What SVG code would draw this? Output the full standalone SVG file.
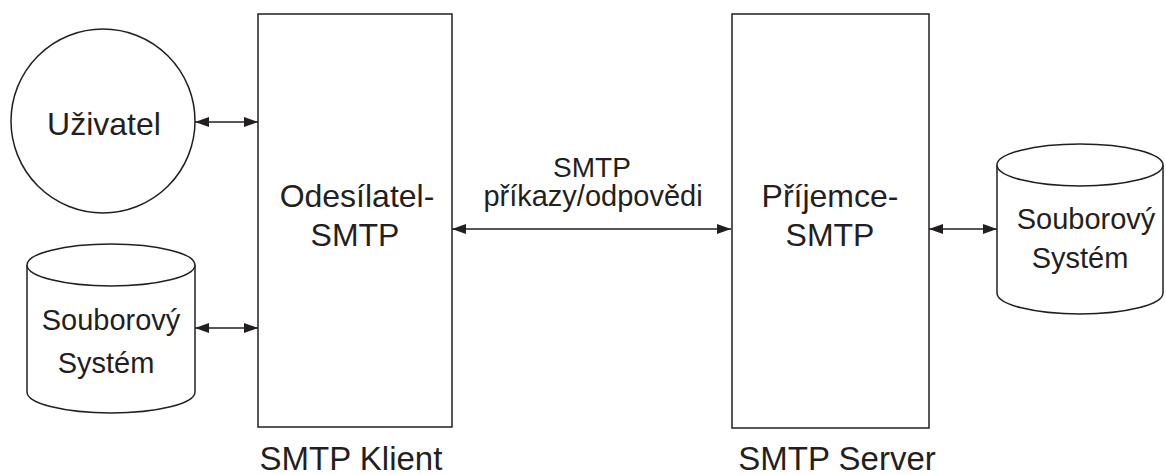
<svg xmlns="http://www.w3.org/2000/svg" width="1166" height="475" viewBox="0 0 1166 475">
  <style>
    .shape { fill: #ffffff; stroke: #231f20; stroke-width: 1.5; }
    .link { fill: none; stroke: #231f20; stroke-width: 1.6; marker-start: url(#head); marker-end: url(#head); }
    .lbl { font-family: "Liberation Sans", Arial, sans-serif; fill: #231f20; text-anchor: middle; }
    .big { font-size: 32px; }
    .mid { font-size: 29px; }
  </style>
  <defs>
    <marker id="head" viewBox="0 0 14 10" refX="14" refY="5" markerWidth="14" markerHeight="10" markerUnits="userSpaceOnUse" orient="auto-start-reverse">
      <path d="M0,0 L14,5 L0,10 Z" fill="#231f20"/>
    </marker>
  </defs>
  <rect width="1166" height="475" fill="#ffffff"/>

  <g id="uzivatel">
    <circle class="shape" cx="103" cy="121" r="92"/>
    <text class="lbl big" x="104" y="135">Uživatel</text>
  </g>

  <g id="souborovy-system-klient">
    <path class="shape" d="M27,265 L27,392 A84,21 0 0 0 195,392 L195,265 A84,21 0 0 0 27,265 Z"/>
    <path class="shape" d="M27,265 A84,21 0 0 0 195,265" fill="none"/>
    <text class="lbl mid" x="111" y="330">Souborový</text>
    <text class="lbl mid" x="106" y="373">Systém</text>
  </g>

  <g id="odesilatel-smtp">
    <rect class="shape" x="258" y="14" width="194" height="413"/>
    <text class="lbl big" x="357" y="207">Odesílatel-</text>
    <text class="lbl big" x="355" y="246">SMTP</text>
  </g>

  <g id="prijemce-smtp">
    <rect class="shape" x="732" y="14" width="197" height="414"/>
    <text class="lbl big" x="830" y="207">Příjemce-</text>
    <text class="lbl big" x="830" y="246">SMTP</text>
  </g>

  <g id="souborovy-system-server">
    <path class="shape" d="M997,165 L997,293 A83,21 0 0 0 1163,293 L1163,165 A83,21 0 0 0 997,165 Z"/>
    <path class="shape" d="M997,165 A83,21 0 0 0 1163,165" fill="none"/>
    <text class="lbl mid" x="1086" y="229">Souborový</text>
    <text class="lbl mid" x="1080" y="268">Systém</text>
  </g>

  <g id="captions">
    <text class="lbl" style="font-size:33px" x="351" y="470">SMTP Klient</text>
    <text class="lbl" style="font-size:33px" x="837" y="470">SMTP Server</text>
    <text class="lbl" style="font-size:28px" x="592" y="177">SMTP</text>
    <text class="lbl mid" x="593" y="206">příkazy/odpovědi</text>
  </g>

  <g id="connectors">
    <line class="link" x1="195" y1="122" x2="258" y2="122"/>
    <line class="link" x1="195" y1="328" x2="258" y2="328"/>
    <line class="link" x1="452" y1="229" x2="731" y2="229"/>
    <line class="link" x1="929" y1="229" x2="997" y2="229"/>
  </g>
</svg>
